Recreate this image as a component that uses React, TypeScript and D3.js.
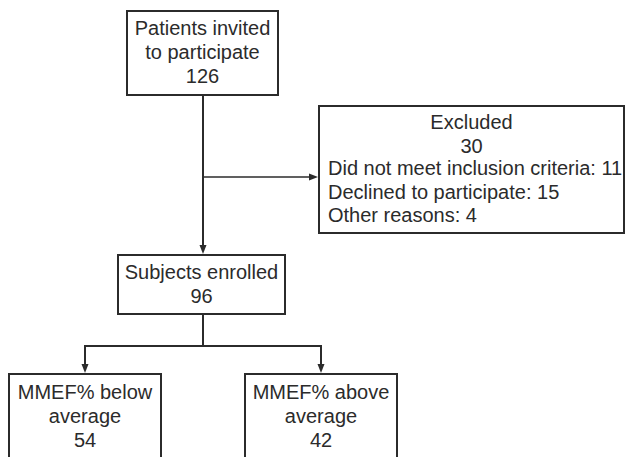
import React from 'react';
import * as d3 from 'd3';

// flow data
const invitedLines = ['Patients invited', 'to participate'];
const invitedCount = 126;
const excludedTitle = 'Excluded';
const excludedCount = 30;
const exclusionReasons = ['Did not meet inclusion criteria', 'Declined to participate', 'Other reasons'];
const exclusionCounts = [11, 15, 4];
const enrolledLines = ['Subjects enrolled'];
const enrolledCount = 96;
const groupLines = [['MMEF% below', 'average'], ['MMEF% above', 'average']];
const groupCounts = [54, 42];

const W = 627;
const H = 457;
const INK = '#2b2b2b';
const FONT = 'Liberation Sans, Arial, Helvetica, sans-serif';
const FS = 20;
const LH = 24;

type Box = { x: number; y: number; w: number; h: number };

const Arrow: React.FC<{ x: number; y: number; dir: 'down' | 'right' }> = ({ x, y, dir }) => {
  // filled triangle with tip at (x,y)
  const L = 9, half = 3.5;
  const pts = dir === 'down'
    ? [[x, y], [x - half, y - L], [x + half, y - L]]
    : [[x, y], [x - L, y - half], [x - L, y + half]];
  return <path d={d3.line()(pts as [number, number][])! + 'Z'} fill={INK} />;
};

const BoxText: React.FC<{ box: Box; lines: string[]; firstBaseline: number }> = ({ box, lines, firstBaseline }) => (
  <g>
    <rect x={box.x} y={box.y} width={box.w} height={box.h} fill="#fff" stroke={INK} strokeWidth={2} />
    {lines.map((t, i) => (
      <text key={i} x={box.x + box.w / 2} y={firstBaseline + i * LH} textAnchor="middle"
        fontFamily={FONT} fontSize={FS} fill={INK}>{t}</text>
    ))}
  </g>
);

export default function App() {
  const cx = 203;
  const invitedBox: Box = { x: 127, y: 11, w: 151, h: 84 };
  const excludedBox: Box = { x: 319, y: 106, w: 305, h: 127 };
  const enrolledBox: Box = { x: 118, y: 255, w: 167, h: 59 };
  const branchY = 177;
  const splitY = 346;
  const groupTop = 374;

  // centres of the two outcome boxes
  const groupX = d3.scalePoint<number>()
    .domain(d3.range(groupCounts.length))
    .range([85, 321]);
  const gw = 152;

  return (
    <div style={{ position: 'fixed', left: 0, top: 0, width: W, height: H, background: '#fff' }}>
      <svg width={W} height={H} style={{ display: 'block' }}>
        {/* main trunk */}
        <line x1={cx} y1={invitedBox.y + invitedBox.h} x2={cx} y2={enrolledBox.y - 8} stroke={INK} strokeWidth={2} />
        <Arrow x={cx} y={enrolledBox.y - 1} dir="down" />
        {/* exclusion branch */}
        <line x1={cx} y1={branchY} x2={excludedBox.x - 8} y2={branchY} stroke={INK} strokeWidth={1.5} />
        <Arrow x={excludedBox.x - 1} y={branchY} dir="right" />

        <BoxText box={invitedBox} lines={[...invitedLines, String(invitedCount)]} firstBaseline={35} />

        {/* excluded box */}
        <rect x={excludedBox.x} y={excludedBox.y} width={excludedBox.w} height={excludedBox.h} fill="#fff" stroke={INK} strokeWidth={2} />
        <text x={excludedBox.x + excludedBox.w / 2} y={129} textAnchor="middle" fontFamily={FONT} fontSize={FS} fill={INK}>{excludedTitle}</text>
        <text x={excludedBox.x + excludedBox.w / 2} y={153} textAnchor="middle" fontFamily={FONT} fontSize={FS} fill={INK}>{excludedCount}</text>
        {exclusionReasons.map((r, i) => (
          <text key={r} x={328} y={175 + i * 23.5} fontFamily={FONT} fontSize={FS} fill={INK}>
            {`${r}: ${exclusionCounts[i]}`}
          </text>
        ))}

        <BoxText box={enrolledBox} lines={[...enrolledLines, String(enrolledCount)]} firstBaseline={279} />

        {/* split to groups */}
        <line x1={cx} y1={enrolledBox.y + enrolledBox.h} x2={cx} y2={splitY} stroke={INK} strokeWidth={2} />
        {groupCounts.map((c, i) => {
          const mid = groupX(i)!;
          const gx = mid - gw / 2;
          return (
            <g key={i}>
              <line x1={mid} y1={splitY} x2={cx} y2={splitY} stroke={INK} strokeWidth={2} />
              <line x1={mid} y1={splitY - 1} x2={mid} y2={groupTop - 8} stroke={INK} strokeWidth={2} />
              <Arrow x={mid} y={groupTop - 1} dir="down" />
              <BoxText box={{ x: gx, y: groupTop, w: gw, h: 120 }} lines={[...groupLines[i], String(c)]} firstBaseline={399} />
            </g>
          );
        })}
      </svg>
    </div>
  );
}
